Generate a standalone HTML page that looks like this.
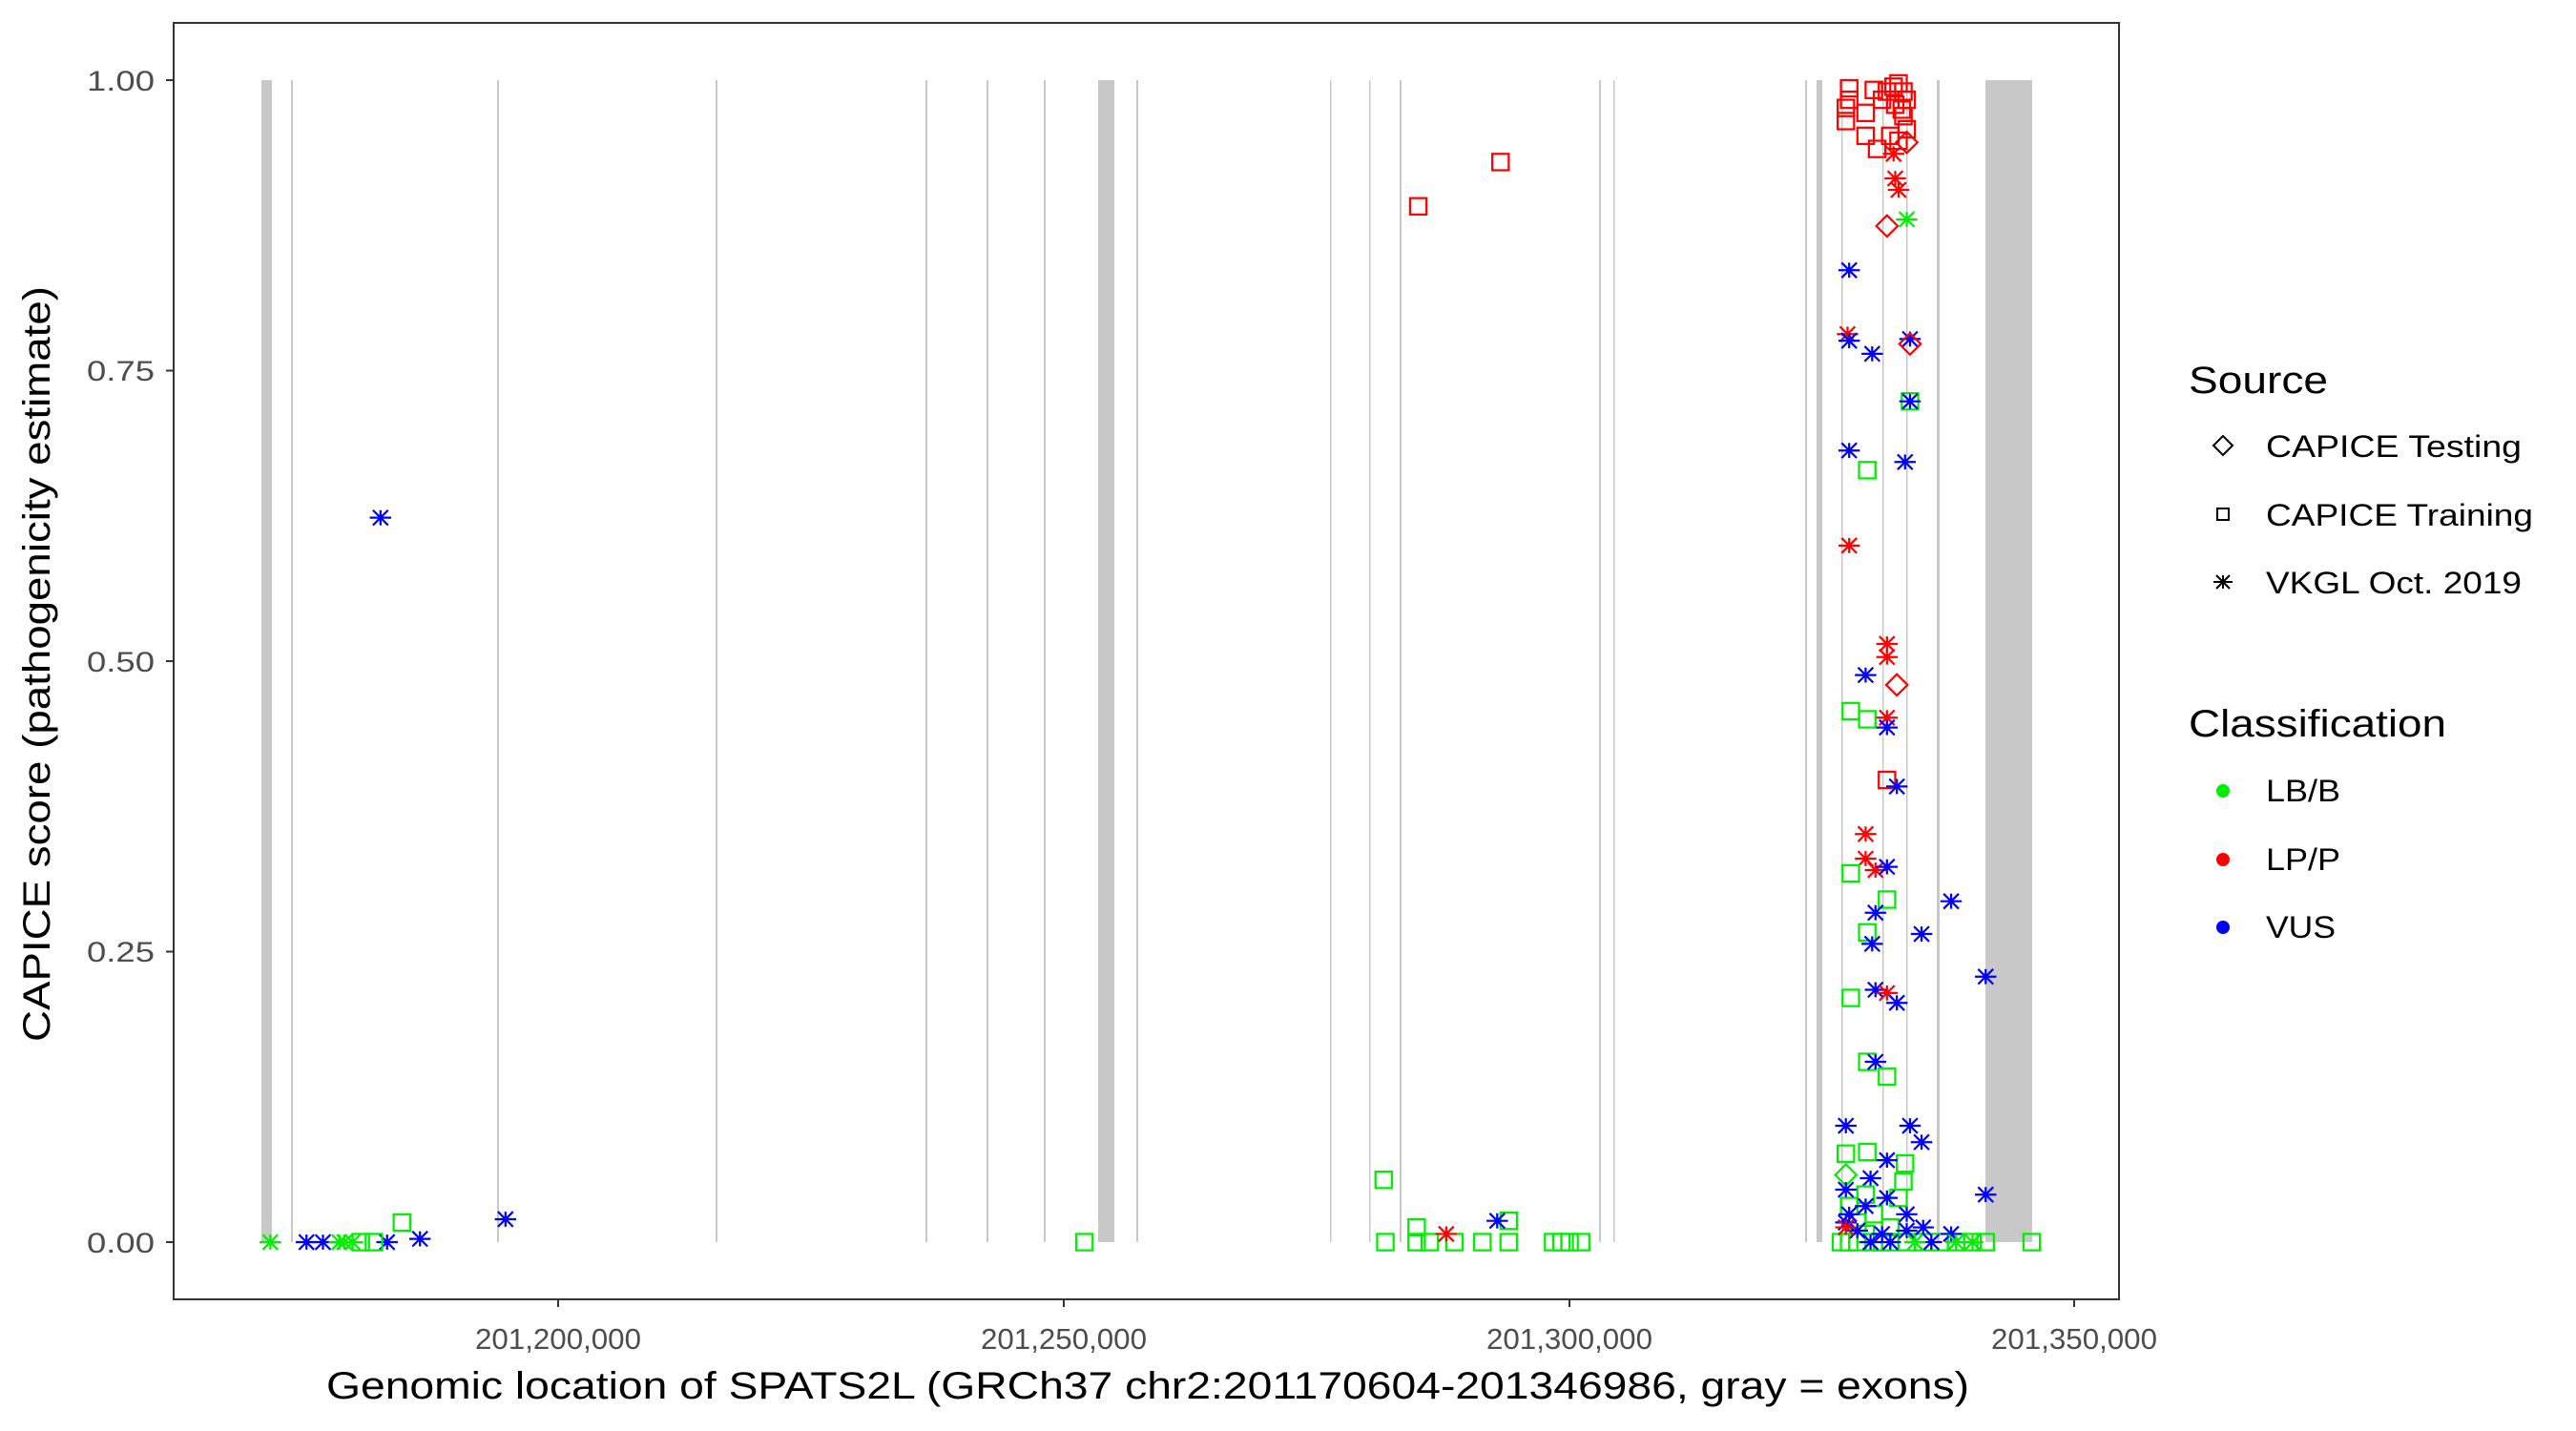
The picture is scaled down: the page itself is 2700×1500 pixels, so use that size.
<!DOCTYPE html>
<html><head><meta charset="utf-8"><style>
body{margin:0;background:#fff}
svg{display:block}
text{font-family:"Liberation Sans",sans-serif}
</style></head><body>
<svg width="2700" height="1500" viewBox="0 0 2700 1500" xmlns="http://www.w3.org/2000/svg">
<rect width="2700" height="1500" fill="#fff"/>
<g fill="#c8c8c8">
<rect x="274" y="84" width="11" height="1218"/>
<rect x="305" y="84" width="2" height="1218"/>
<rect x="521" y="84" width="2" height="1218"/>
<rect x="750" y="84" width="2" height="1218"/>
<rect x="970" y="84" width="2" height="1218"/>
<rect x="1034" y="84" width="2" height="1218"/>
<rect x="1094" y="84" width="2" height="1218"/>
<rect x="1151" y="84" width="17" height="1218"/>
<rect x="1191" y="84" width="2" height="1218"/>
<rect x="1394" y="84" width="1.5" height="1218"/>
<rect x="1435" y="84" width="1.5" height="1218"/>
<rect x="1467" y="84" width="2" height="1218"/>
<rect x="1676" y="84" width="2" height="1218"/>
<rect x="1691" y="84" width="1.5" height="1218"/>
<rect x="1892" y="84" width="2" height="1218"/>
<rect x="1904" y="84" width="6" height="1218"/>
<rect x="1930" y="84" width="1.5" height="1218"/>
<rect x="1973" y="84" width="1.5" height="1218"/>
<rect x="1998" y="84" width="1.5" height="1218"/>
<rect x="2030" y="84" width="3" height="1218"/>
<rect x="2081" y="84" width="49" height="1218"/>
</g>
<g transform="matrix(1.7238 0 0 1.718 -1.1 1.5)">
<g id="pts"></g>
</g>
<script>
(function(){
var g=document.getElementById('pts');var ns='http://www.w3.org/2000/svg';
var C={g:'#00ee00',r:'#ff0000',b:'#0000ff'};
function add(t,c,x,y){var e;
 if(t=='s'){e=document.createElementNS(ns,'rect');e.setAttribute('x',x-5);e.setAttribute('y',y-5);e.setAttribute('width',10);e.setAttribute('height',10);}
 else if(t=='d'){e=document.createElementNS(ns,'path');e.setAttribute('d','M'+x+' '+(y-6.5)+'L'+(x+6.5)+' '+y+'L'+x+' '+(y+6.5)+'L'+(x-6.5)+' '+y+'Z');}
 else {e=document.createElementNS(ns,'path');var r=6.5,q=4.6;e.setAttribute('d','M'+(x-r)+' '+y+'H'+(x+r)+'M'+(x-q)+' '+(y-q)+'L'+(x+q)+' '+(y+q)+'M'+(x-q)+' '+(y+q)+'L'+(x+q)+' '+(y-q)+'M'+x+' '+(y-q)+'V'+(y+q));}
 e.setAttribute('stroke',C[c]);e.setAttribute('fill','none');e.setAttribute('stroke-width','1.3');g.appendChild(e);}
var P=[
['t','g',165,757],['t','b',187,757],['t','b',197,757],['t','b',236,757],['t','b',256,755],
['t','g',207,757],['t','g',210,757],['t','g',215,757],['s','g',220,757],['s','g',228,757],['s','g',245,745],
['t','b',232,315],['t','b',308,743],
['s','g',660,757],['s','g',842,719],['s','g',843,757],['s','g',862,748],['s','g',862,757],['s','g',870,757],['s','g',885,757],['s','g',902,757],['s','g',918,744],['s','g',918,757],['s','g',945,757],['s','g',950,757],['s','g',955,757],['s','g',962,757],
['t','r',880,752],['t','b',911,744],['s','r',863,125],['s','r',913,98],
['s','r',1125,53],['s','r',1140,54],['s','r',1123,65],['s','r',1135,68],['s','r',1123,73],['s','r',1125,60],['s','r',1152,52],['s','r',1155,50],['s','r',1158,55],['s','r',1160,60],['s','r',1145,60],['s','r',1148,55],['s','r',1135,82],['s','r',1142,90],['s','r',1150,82],['s','r',1158,70],['s','r',1160,78],['s','r',1155,85],['s','r',1153,63],['s','r',1157,66],
['d','r',1160,86],['d','r',1148,137],['t','r',1152,93],['t','r',1153,108],['t','r',1155,115],['t','g',1160,133],
['t','b',1125,164],['t','r',1124,203],['t','b',1125,207],['t','b',1139,215],['t','b',1162,206],['d','r',1162,209],
['s','g',1162,244],['t','b',1162,244],['t','b',1125,274],['s','g',1136,286],['t','b',1159,281],['t','r',1125,332],
['t','r',1148,392],['t','r',1148,400],['d','r',1154,417],['t','b',1135,411],
['s','g',1126,433],['s','g',1136,438],['t','r',1148,437],['t','b',1148,443],['s','r',1148,475],['t','b',1154,479],
['t','r',1135,508],['t','r',1135,523],['t','r',1141,530],['t','b',1148,528],['s','g',1126,532],
['s','g',1148,548],['t','b',1141,556],['t','b',1187,549],['s','g',1136,568],['t','b',1139,575],['t','b',1169,569],
['s','g',1126,608],['t','b',1141,603],['t','r',1148,605],['t','b',1154,611],['t','b',1208,595],
['s','g',1136,647],['t','b',1141,647],['s','g',1148,656],
['t','b',1123,686],['t','b',1162,686],['t','b',1169,696],
['s','g',1123,703],['s','g',1136,702],['s','g',1159,709],['s','g',1158,720],['d','g',1123,716],['t','b',1148,707],['t','b',1138,718],['t','b',1208,728],
['s','g',1125,735],['s','g',1130,745],['s','g',1140,740],['s','g',1150,748],['s','g',1135,728],['s','g',1155,730],
['s','g',1120,757],['s','g',1125,757],['s','g',1130,757],['s','g',1140,757],['s','g',1150,757],['s','g',1160,757],['s','g',1170,757],['s','g',1180,757],['s','g',1190,757],['s','g',1200,757],['s','g',1208,757],['s','g',1236,757],['s','g',1135,752],['s','g',1145,757],
['t','b',1123,725],['t','b',1125,740],['t','b',1135,735],['t','b',1148,730],['t','b',1160,740],['t','b',1170,748],['t','b',1160,750],['t','b',1145,752],['t','b',1130,750],['t','b',1175,757],['t','b',1187,752],['t','b',1123,745],['t','b',1150,757],['t','b',1138,757],
['t','r',1123,748],['t','g',1190,757],['t','g',1200,757],['t','g',1165,757]
];
P.forEach(function(p){add(p[0],p[1],p[2],p[3]);});
})();
</script>
<rect x="182" y="24" width="2039" height="1338" fill="none" stroke="#333" stroke-width="2"/>
<g stroke="#333" stroke-width="2">
<line x1="174" y1="84" x2="182" y2="84"/><line x1="174" y1="388.5" x2="182" y2="388.5"/><line x1="174" y1="693" x2="182" y2="693"/><line x1="174" y1="997.5" x2="182" y2="997.5"/><line x1="174" y1="1302" x2="182" y2="1302"/>
<line x1="585" y1="1362" x2="585" y2="1370"/><line x1="1115" y1="1362" x2="1115" y2="1370"/><line x1="1645" y1="1362" x2="1645" y2="1370"/><line x1="2174" y1="1362" x2="2174" y2="1370"/>
</g>
<g fill="#4d4d4d" font-size="30" text-anchor="end">
<text x="162" y="95" textLength="71" lengthAdjust="spacingAndGlyphs">1.00</text>
<text x="162" y="399" textLength="71" lengthAdjust="spacingAndGlyphs">0.75</text>
<text x="162" y="704" textLength="71" lengthAdjust="spacingAndGlyphs">0.50</text>
<text x="162" y="1008" textLength="71" lengthAdjust="spacingAndGlyphs">0.25</text>
<text x="162" y="1313" textLength="71" lengthAdjust="spacingAndGlyphs">0.00</text>
</g>
<g fill="#4d4d4d" font-size="31" text-anchor="middle">
<text x="585" y="1414" textLength="174" lengthAdjust="spacingAndGlyphs">201,200,000</text>
<text x="1115" y="1414" textLength="174" lengthAdjust="spacingAndGlyphs">201,250,000</text>
<text x="1645" y="1414" textLength="174" lengthAdjust="spacingAndGlyphs">201,300,000</text>
<text x="2174" y="1414" textLength="174" lengthAdjust="spacingAndGlyphs">201,350,000</text>
</g>
<text x="1203" y="1466" font-size="40" text-anchor="middle" fill="#000" textLength="1722" lengthAdjust="spacingAndGlyphs">Genomic location of SPATS2L (GRCh37 chr2:201170604-201346986, gray = exons)</text>
<text transform="translate(52,696) rotate(-90)" font-size="40" text-anchor="middle" fill="#000" textLength="792" lengthAdjust="spacingAndGlyphs">CAPICE score (pathogenicity estimate)</text>
<text x="2294" y="412" font-size="40" fill="#000" textLength="146" lengthAdjust="spacingAndGlyphs">Source</text>
<path d="M2330 457L2340 467L2330 477L2320 467Z" fill="none" stroke="#000" stroke-width="2"/>
<rect x="2324" y="533" width="12" height="12" fill="none" stroke="#000" stroke-width="2"/>
<path d="M2320 610H2340M2323 603L2337 617M2323 617L2337 603M2330 603V617" stroke="#000" stroke-width="2"/>
<g font-size="32" fill="#000">
<text x="2375" y="479" textLength="268" lengthAdjust="spacingAndGlyphs">CAPICE Testing</text>
<text x="2375" y="551" textLength="280" lengthAdjust="spacingAndGlyphs">CAPICE Training</text>
<text x="2375" y="622" textLength="268" lengthAdjust="spacingAndGlyphs">VKGL Oct. 2019</text>
</g>
<text x="2294" y="772" font-size="40" fill="#000" textLength="270" lengthAdjust="spacingAndGlyphs">Classification</text>
<circle cx="2330" cy="829" r="7" fill="#00ee00"/><circle cx="2330" cy="901" r="7" fill="#ff0000"/><circle cx="2330" cy="972" r="7" fill="#0000ff"/>
<g font-size="32" fill="#000">
<text x="2375" y="840" textLength="78" lengthAdjust="spacingAndGlyphs">LB/B</text>
<text x="2375" y="912" textLength="78" lengthAdjust="spacingAndGlyphs">LP/P</text>
<text x="2375" y="983" textLength="73" lengthAdjust="spacingAndGlyphs">VUS</text>
</g>
</svg>
</body></html>
